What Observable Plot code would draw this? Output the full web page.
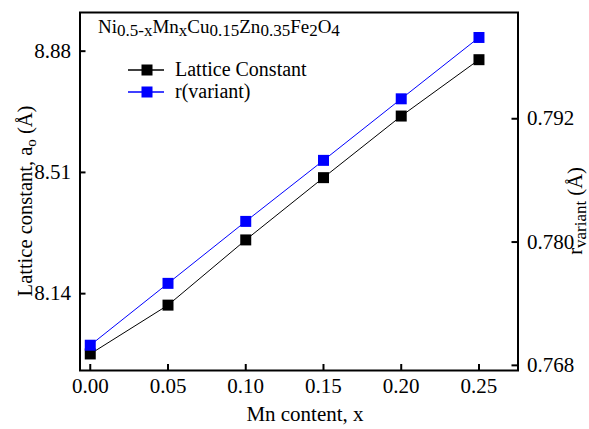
<!DOCTYPE html>
<html><head><meta charset="utf-8">
<script src="https://cdn.jsdelivr.net/npm/d3@7"></script>
<script src="https://cdn.jsdelivr.net/npm/@observablehq/plot@0.6"></script>
<style>
body{margin:0;background:#fff}
svg{display:block}
svg text, svg tspan{font-family:"Liberation Serif","Times New Roman",serif !important;}
</style>
</head><body><div id="chart"></div>
<script>
const mnContent = [0, 0.05, 0.10, 0.15, 0.20, 0.25];
const latticeConstant = [7.956, 8.105, 8.304, 8.494, 8.682, 8.854];
const rVariant = [0.76996, 0.77598, 0.78201, 0.78795, 0.79394, 0.79991];
const xTicks = [0, 0.05, 0.10, 0.15, 0.20, 0.25];
const leftTicks = [8.14, 8.51, 8.88];
const rightTicks = [0.768, 0.780, 0.792];
const xDomain = [-0.0066, 0.2751];
const leftDomain = [7.9055, 8.998];
const rightDomain = [0.7675, 0.80234];
const seriesNames = ["Lattice Constant", "r(variant)"];
const seriesColors = ["black", "blue"];

const W = 589, H = 429, mL = 79.5, mR = 71.5, mT = 12, mB = 59;
const innerW = W - mL - mR, innerH = H - mT - mB;
const rToLeft = d3.scaleLinear().domain(rightDomain).range(leftDomain);

const lattice = mnContent.map((x, i) => ({x, y: latticeConstant[i]}));
const rv = mnContent.map((x, i) => ({x, y: rToLeft(rVariant[i]), r: rVariant[i]}));

const font = "Liberation Serif, Times New Roman, serif";

const plot = Plot.plot({
  width: W, height: H, marginLeft: mL, marginRight: mR, marginTop: mT, marginBottom: mB,
  style: {fontFamily: font, fontSize: "21px", background: "white", color: "black"},
  x: {domain: xDomain},
  y: {domain: leftDomain},
  marks: [
    Plot.axisX(xTicks, {tickSize: 0, tickPadding: 8, tickFormat: d3.format(".2f"), label: null}),
    Plot.axisY(leftTicks, {anchor: "left", tickSize: 0, tickPadding: 9, tickFormat: d3.format(".2f"), label: null}),
    Plot.axisY(rightTicks.map(rToLeft), {anchor: "right", tickSize: 0, tickPadding: 9, tickFormat: d => d3.format(".3f")(rToLeft.invert(d)), label: null}),
    Plot.tickX(xTicks, {x: d => d, stroke: "black", strokeWidth: 2, insetTop: innerH - 6}),
    Plot.tickY(leftTicks, {y: d => d, stroke: "black", strokeWidth: 2, insetRight: innerW - 6}),
    Plot.tickY(rightTicks, {y: d => rToLeft(d), stroke: "black", strokeWidth: 2, insetLeft: innerW - 6}),
    Plot.line(lattice, {x: "x", y: "y", stroke: seriesColors[0], strokeWidth: 1}),
    Plot.line(rv, {x: "x", y: "y", stroke: seriesColors[1], strokeWidth: 1}),
    Plot.dot(lattice, {x: "x", y: "y", symbol: "square", r: 6.2, fill: seriesColors[0]}),
    Plot.dot(rv, {x: "x", y: "y", symbol: "square", r: 6.2, fill: seriesColors[1]}),
    Plot.frame({stroke: "black", strokeWidth: 2})
  ]
});
document.getElementById("chart").appendChild(plot);

const svg = d3.select(plot);
const g = svg.append("g").attr("fill", "black").attr("text-anchor", "start");

// x label
g.append("text").attr("x", 305).attr("y", 421).attr("text-anchor", "middle")
  .attr("font-size", 21).text("Mn content, x");

// left y label
const ly = g.append("text").attr("transform", "translate(32,201) rotate(-90)")
  .attr("text-anchor", "middle").attr("font-size", 20.5);
ly.append("tspan").text("Lattice constant, a");
ly.append("tspan").attr("font-size", 15).attr("dy", 4).text("o");
ly.append("tspan").attr("dy", -4).text(" (Å)");

// right y label
const ry = g.append("text").attr("transform", "translate(582,211) rotate(-90)")
  .attr("text-anchor", "middle").attr("font-size", 20.5);
ry.append("tspan").text("r");
ry.append("tspan").attr("font-size", 17).attr("dy", 4).text("variant");
ry.append("tspan").attr("dy", -4).text(" (Å)");

// title formula
const parts = [["Ni",0],["0.5-x",1],["Mn",0],["x",1],["Cu",0],["0.15",1],["Zn",0],["0.35",1],["Fe",0],["2",1],["O",0],["4",1]];
const tt = g.append("text").attr("x", 98).attr("y", 33).attr("font-size", 19).attr("text-anchor", "start");
let prev = 0;
parts.forEach(([s, sub]) => {
  const sh = sub ? 3 : 0;
  tt.append("tspan").attr("dy", sh - prev).attr("font-size", sub ? 17 : 19).text(s);
  prev = sh;
});

// legend
const legY = [70, 92], legTextY = [76, 98];
seriesNames.forEach((name, i) => {
  g.append("line").attr("x1", 128).attr("x2", 164).attr("y1", legY[i]).attr("y2", legY[i])
    .attr("stroke", seriesColors[i]).attr("stroke-width", 1.3);
  g.append("rect").attr("x", 141.5).attr("y", legY[i] - 5.5).attr("width", 11).attr("height", 11)
    .attr("fill", seriesColors[i]);
  g.append("text").attr("x", 175).attr("y", legTextY[i]).attr("font-size", 20)
    .attr("text-anchor", "start").text(name);
});
</script>
</body></html>
